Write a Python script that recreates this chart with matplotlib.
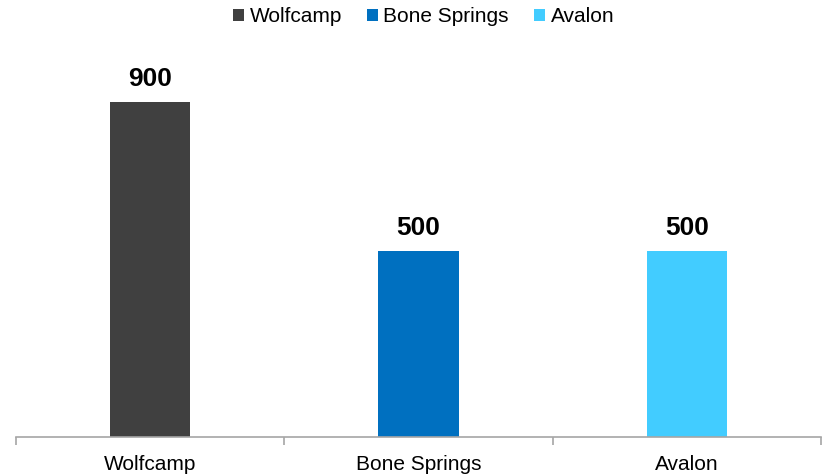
import numpy as np
import matplotlib.pyplot as plt
from matplotlib.patches import Patch

plt.rcParams['font.family'] = ['Liberation Sans', 'DejaVu Sans']

names = ["Wolfcamp", "Bone Springs", "Avalon"]
values = [900, 500, 500]
colors = ["#404040", "#0070C0", "#42CCFF"]

fig = plt.figure(figsize=(8.23, 4.76), dpi=100)
ax = fig.add_axes([16/823, 1 - 437/476, 805/823, 372.5/476])

x = np.arange(len(names))
bars = ax.bar(x, values, width=0.30, color=colors)

# value labels above each bar
for xi, v in zip(x, values):
    ax.annotate(str(v), (xi, v), xytext=(0, 8), textcoords="offset points",
                ha="center", va="bottom", fontsize=19, fontweight="bold",
                color="black")

ax.set_xlim(-0.5, len(names) - 0.5)
ax.set_ylim(0, 1000)
ax.set_yticks([])
for s in ["top", "right", "left"]:
    ax.spines[s].set_visible(False)
ax.spines["bottom"].set_color("#A6A6A6")
ax.spines["bottom"].set_linewidth(1.2)

ax.set_xticks(x)
ax.set_xticklabels(names, fontsize=15)
ax.tick_params(axis="x", which="major", length=0, pad=13)
ax.set_xticks(np.arange(len(names) + 1) - 0.5, minor=True)
ax.tick_params(axis="x", which="minor", length=6, width=1.2, color="#A6A6A6")

handles = [Patch(facecolor=c, label=n) for n, c in zip(names, colors)]
fig.legend(handles=handles, loc="center",
           bbox_to_anchor=(0.5 + 12/823, 1 - 17/476),
           ncol=3, frameon=False, fontsize=15, handlelength=0.55,
           handleheight=0.55, handletextpad=0.25, columnspacing=1.2,
           borderpad=0)

fig.savefig("out.png", dpi=100)
